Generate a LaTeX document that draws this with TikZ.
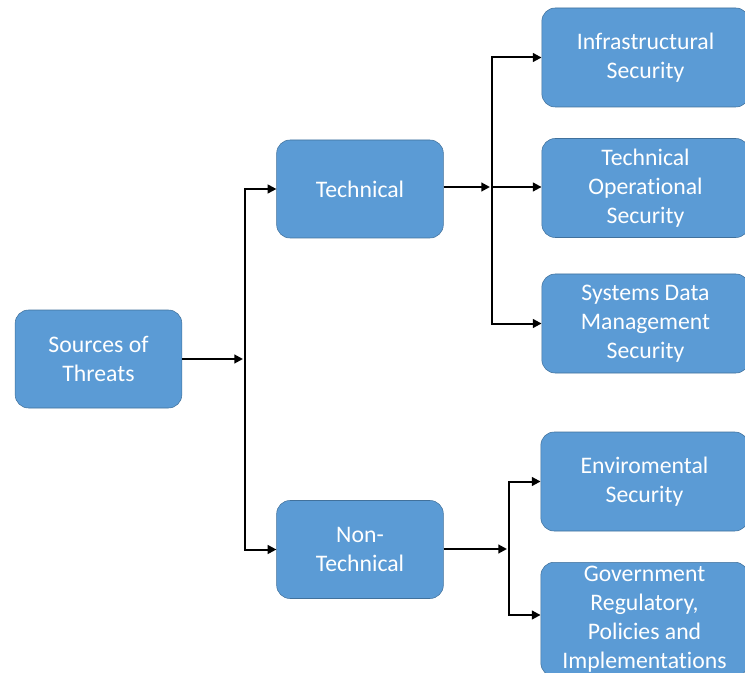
\documentclass[tikz,border=0pt]{standalone}
\usepackage{fontspec}
\setmainfont{Carlito}[Ligatures=NoCommon]
\usepackage{xcolor}
\usepackage{tikz}
\definecolor{boxblue}{RGB}{91, 155, 213}
\definecolor{boxedge}{RGB}{65, 113, 156}
\usetikzlibrary{arrows.meta, positioning, calc}

\begin{document}
\begin{tikzpicture}[
    x=0.75pt, y=-0.75pt,
    box/.style={rectangle, draw=boxedge, fill=boxblue, text=white,
                minimum width=125pt, minimum height=73.5pt, align=center,
                rounded corners=10pt, font=\fontsize{17.8}{21.7}\selectfont},
    leaf/.style={box, minimum width=155.5pt, minimum height=74.25pt},
    arrow/.style={-{Triangle[length=6.5pt, width=6.5pt]}, line width=1.5pt, black},
    bus/.style={line width=1.5pt, black}
]
    \useasboundingbox (0,0) rectangle (745,673);

    \node[box] (src) at (98.5,359) {Sources of\\Threats};
    \node[box] (tech) at (360,189) {Technical};
    \node[box] (nontech) at (360,549.5) {Non-\\Technical};

    \node[leaf] (infra) at (645.5,57.5) {Infrastructural\\Security};
    \node[leaf] (oper) at (645.5,188) {Technical\\Operational\\Security};
    \node[leaf] (sysdata) at (645.5,323.5) {Systems Data\\Management\\Security};
    \node[leaf] (env) at (644.5,481.5) {Enviromental\\Security};
    \node[leaf, anchor=north, inner ysep=3pt] (gov) at (644.5,562)
        {Government\\Regulatory,\\Policies and\\Implementations};

    % split points
    \coordinate (j1) at (245,359);
    \coordinate (j2) at (492,187);
    \coordinate (j3) at (509,549);

    \draw[arrow] (src.east) -- ([xshift=-1.5pt]j1);
    \draw[arrow] (j1) |- (tech.west);
    \draw[arrow] (j1) |- (nontech.west);

    \draw[arrow] (tech.east |- j2) -- ([xshift=-1.5pt]j2);
    \draw[arrow] (j2) |- (infra.west);
    \draw[arrow] (j2) -- (j2 -| oper.west);
    \draw[arrow] (j2) |- (sysdata.west);

    \draw[arrow] (nontech.east |- j3) -- ([xshift=-1.5pt]j3);
    \draw[arrow] (j3) |- (env.west);
    \draw[arrow] (j3) |- (gov.west |- 0,615);
\end{tikzpicture}
\end{document}
